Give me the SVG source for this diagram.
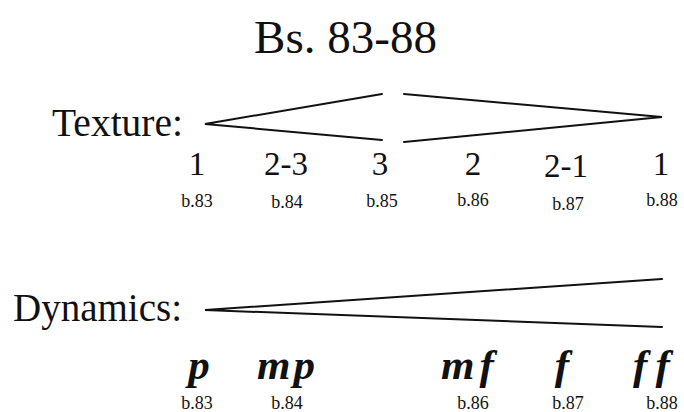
<svg xmlns="http://www.w3.org/2000/svg" width="684" height="412" viewBox="0 0 684 412">
<style>
  text { fill: #111; }
  .title { font-size: 47px; }
  .lab { font-size: 41px; }
  .num { font-size: 33px; text-anchor: middle; }
  .bar { font-size: 18px; text-anchor: middle; }
  .dyn { font-size: 43px; font-weight: bold; font-style: italic; }
  .mid { text-anchor: middle; }
  .ln { stroke: #111; stroke-width: 2; fill: none; stroke-linecap: round; }
</style>
<rect width="684" height="412" fill="#fff"/>
<g font-family="Liberation Serif, Tinos, DejaVu Serif, serif">
<g id="title"><text class="title" x="254" y="53" textLength="183" lengthAdjust="spacingAndGlyphs">Bs. 83-88</text></g>
<g id="texture-label"><text class="lab" x="52" y="136" textLength="131" lengthAdjust="spacingAndGlyphs">Texture:</text></g>
<g id="dynamics-label"><text class="lab" x="13" y="321" textLength="169" lengthAdjust="spacingAndGlyphs">Dynamics:</text></g>
<g id="texture-values">
  <text class="num" x="197" y="175">1</text>
  <text class="num" x="286" y="175">2-3</text>
  <text class="num" x="380" y="175">3</text>
  <text class="num" x="473" y="175">2</text>
  <text class="num" x="566" y="177">2-1</text>
  <text class="num" x="661" y="175">1</text>
</g>
<g id="texture-bars">
  <text class="bar" x="197" y="207">b.83</text>
  <text class="bar" x="287" y="208">b.84</text>
  <text class="bar" x="382" y="207">b.85</text>
  <text class="bar" x="473" y="206">b.86</text>
  <text class="bar" x="568" y="210">b.87</text>
  <text class="bar" x="662" y="206">b.88</text>
</g>
<g id="dynamics-values">
  <text class="dyn mid" x="199" y="379">p</text>
  <text class="dyn" x="257" y="379" letter-spacing="3">mp</text>
  <text class="dyn" x="441" y="379" letter-spacing="5">mf</text>
  <text class="dyn mid" x="562" y="379">f</text>
  <text class="dyn" x="633" y="379" letter-spacing="9">ff</text>
</g>
<g id="dynamics-bars">
  <text class="bar" x="197" y="409">b.83</text>
  <text class="bar" x="287" y="409">b.84</text>
  <text class="bar" x="473" y="409">b.86</text>
  <text class="bar" x="568" y="409">b.87</text>
  <text class="bar" x="662" y="409">b.88</text>
</g>
</g>
<g id="connectors">
  <path class="ln" d="M382,94 L205,124 L382,140"/>
  <path class="ln" d="M404,94 L662,117 L404,142"/>
  <path class="ln" d="M662,279 L205,310 L662,327"/>
</g>
</svg>
